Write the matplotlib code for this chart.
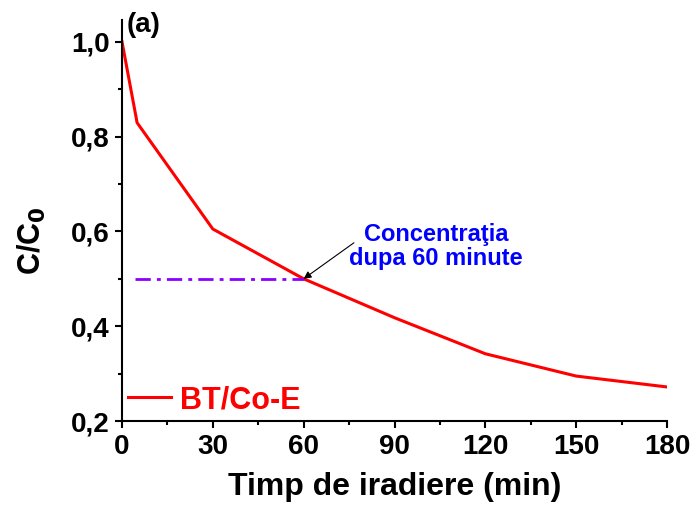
import matplotlib.pyplot as plt
from matplotlib.ticker import MultipleLocator, FuncFormatter

plt.rcParams['font.family'] = ['Liberation Sans', 'DejaVu Sans']
plt.rcParams['font.weight'] = 'bold'
plt.rcParams['mathtext.default'] = 'bf'

# degradation curve
time_min = [0, 5, 30, 60, 90, 120, 150, 180]
c_c0 = [1.0, 0.829, 0.605, 0.50, 0.418, 0.342, 0.295, 0.272]
series_name = 'BT/Co-E'

# concentration after 60 minutes
t_mark = 60
c_mark = 0.50
t_guide_start = 4.3

fig = plt.figure(figsize=(6.97, 5.08), dpi=100)
ax = fig.add_axes([0.175, 0.171, 0.782, 0.79])

ax.plot(time_min, c_c0, color='#FF0000', linewidth=2.2, label=series_name)
ax.plot([t_guide_start, t_mark], [c_mark, c_mark], color='#8B00FF',
        linewidth=2, linestyle=(0, (5.5, 2.2, 1.4, 2.2)))

ax.text(103.7, 0.568, 'Concentraţia\ndupa 60 minute', color='#0000FF',
        fontsize=17, fontweight='bold', ha='center', va='center',
        linespacing=1.1)
ax.annotate('', xy=(t_mark, c_mark), xytext=(76.6, 0.576),
            arrowprops=dict(arrowstyle='-|>', color='black', lw=0.8,
                            shrinkA=0, shrinkB=0, mutation_scale=11))

ax.set_xlim(0, 180)
ax.set_ylim(0.2, 1.046)
ax.xaxis.set_major_locator(MultipleLocator(30))
ax.xaxis.set_minor_locator(MultipleLocator(15))
ax.yaxis.set_major_locator(MultipleLocator(0.2))
ax.yaxis.set_minor_locator(MultipleLocator(0.1))
ax.yaxis.set_major_formatter(FuncFormatter(lambda v, p: f'{v:.1f}'.replace('.', ',')))

for side in ('top', 'right'):
    ax.spines[side].set_visible(False)
for side in ('left', 'bottom'):
    ax.spines[side].set_linewidth(1.5)

ax.tick_params(which='major', direction='out', length=5, width=1.5, labelsize=20, pad=4)
ax.tick_params(which='minor', direction='out', length=3, width=1.5)

ax.set_xlabel('Timp de iradiere (min)', fontsize=23, fontweight='bold', labelpad=9)
ax.set_ylabel('C/C$_0$', fontsize=22, fontweight='bold')
ax.yaxis.set_label_coords(-0.135, 0.45)

fig.text(127 / 697, 1 - 32 / 508, '(a)', fontsize=20, fontweight='bold',
         va='baseline', ha='left')

leg = ax.legend(loc='lower left', frameon=False, fontsize=22, handlelength=1.4,
                handletextpad=0.3, borderaxespad=0.15, borderpad=0.05)
for t in leg.get_texts():
    t.set_color('#FF0000')

fig.savefig('out.png', dpi=100)
